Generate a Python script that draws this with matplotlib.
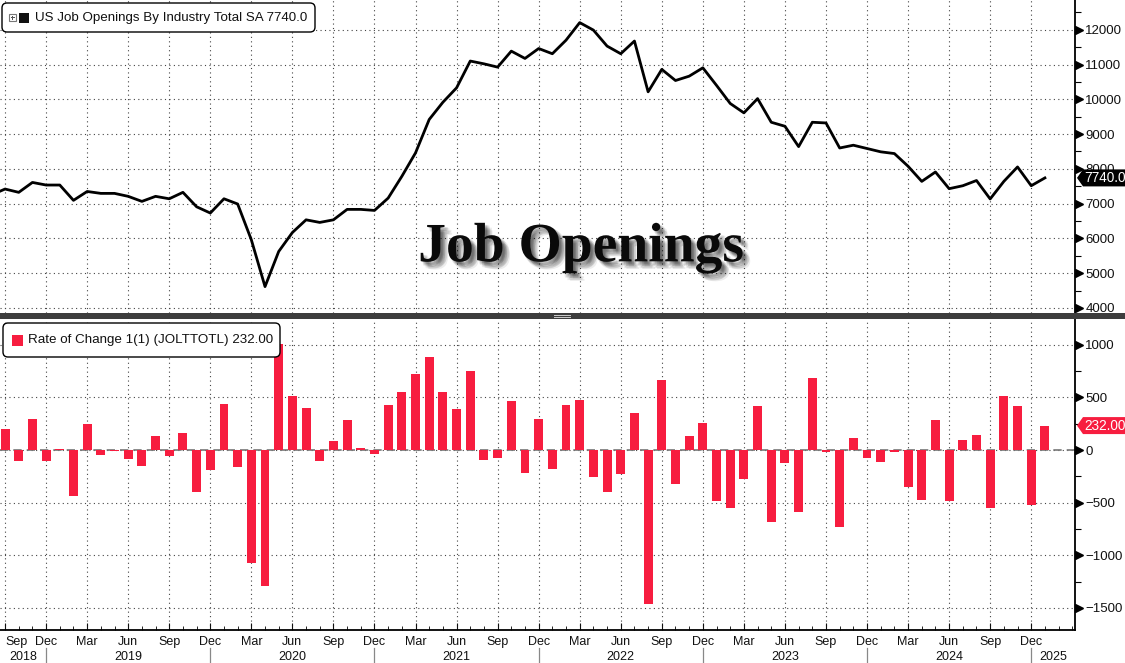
import matplotlib
matplotlib.use("Agg")
import matplotlib.pyplot as plt
import matplotlib.patheffects as pe
from matplotlib.patches import Rectangle, FancyBboxPatch, Polygon
from matplotlib.transforms import IdentityTransform, blended_transform_factory
from matplotlib.ticker import MultipleLocator, FixedLocator

plt.rcParams['font.family'] = ['Liberation Sans', 'DejaVu Sans']

# job openings, thousands, Aug 2018 .. Jan 2025
openings = [
    7250, 7420, 7325, 7610, 7535,
    7535, 7095, 7350, 7295, 7295, 7210, 7065, 7210, 7140, 7325, 6910, 6730,
    7140, 6990, 5960, 4615, 5625, 6170, 6535, 6460, 6535, 6835, 6835, 6805,
    7160, 7785, 8460, 9420, 9915, 10330, 11100, 11020, 10925, 11385, 11175, 11460,
    11310, 11700, 12205, 11990, 11530, 11310, 11675, 10215, 10860, 10540, 10665, 10905,
    10400, 9880, 9610, 10020, 9340, 9225, 8640, 9340, 9320, 8600, 8680, 8585,
    8490, 8440, 8075, 7640, 7910, 7430, 7515, 7665, 7135, 7640, 8055, 7515,
    7740,
]
# month over month change, Sep 2018 .. Jan 2025
changes = [
    196, -104, 294, -104,
    10, -434, 247, -47, -5, -85, -152, 136, -57, 165, -396, -190,
    434, -161, -1073, -1288, 1010, 513, 402, -104, 85, 285, 16, -41,
    427, 548, 718, 883, 548, 389, 750, -92, -73, 465, -215, 294,
    -177, 427, 475, -253, -396, -225, 351, -1459, 665, -320, 133, 256,
    -481, -548, -275, 418, -680, -120, -586, 684, -15, -731, 111, -73,
    -111, -16, -351, -472, 285, -481, 95, 142, -548, 513, 418, -522,
    232,
]
quarter_names = ['Sep', 'Dec', 'Mar', 'Jun']
years = ['2018', '2019', '2020', '2021', '2022', '2023', '2024', '2025']

RED = '#f71d3f'
W, H = 1125, 663

# x = months since Sep 2018
x_line = list(range(-1, len(openings) - 1))
x_bar = list(range(len(changes)))
x_lo, x_hi = -0.37, 78.2

fig = plt.figure(figsize=(W / 100, H / 100), dpi=100)


def box(x0, y0, x1, y1):
    return [x0 / W, 1 - y1 / H, (x1 - x0) / W, (y1 - y0) / H]


ax1 = fig.add_axes(box(0, 0, 1075, 313))
ax2 = fig.add_axes(box(0, 319, 1075, 630))

ax1.plot(x_line, openings, color='k', lw=2, zorder=3)
ax2.bar(x_bar, changes, width=0.65, color=RED, zorder=3)
ax2.axhline(0, color='#777777', lw=1.2, ls=(0, (5, 3)), zorder=2)

grid_kw = dict(color='#444444', lw=0.8, ls=(0, (1, 3)))
qticks = list(range(0, 76, 3))

for ax, lo, hi, step, minor in [(ax1, 3856, 12855, 1000, 500), (ax2, -1709, 1244, 500, 250)]:
    ax.set_xlim(x_lo, x_hi)
    ax.set_ylim(lo, hi)
    ax.yaxis.tick_right()
    ax.yaxis.set_major_locator(MultipleLocator(step))
    ax.yaxis.set_minor_locator(MultipleLocator(minor))
    ax.xaxis.set_major_locator(FixedLocator(qticks))
    ax.tick_params(axis='y', which='major', length=0, pad=7.5, labelsize=9.5, colors='#111111')
    ax.tick_params(axis='y', which='minor', length=4, width=0.8, direction='out')
    ax.grid(True, which='major', **grid_kw)
    for s in ['left', 'top']:
        ax.spines[s].set_visible(False)
    ax.spines['right'].set_linewidth(1.3)
    ax.set_axisbelow(True)
    tr = blended_transform_factory(ax.transAxes, ax.transData)
    majors = [v for v in range(-3000, 13001, step) if lo < v < hi]
    ax.plot([1.004] * len(majors), majors, transform=tr, marker='>', ms=6,
            color='k', ls='none', clip_on=False)
    ax.set_ylim(lo, hi)

ax1.spines['bottom'].set_visible(False)
ax1.tick_params(axis='x', which='both', length=0, labelbottom=False)

ax2.spines['bottom'].set_linewidth(1.3)
ax2.xaxis.set_minor_locator(MultipleLocator(1))
ax2.set_xticklabels([quarter_names[i % 4] for i in range(len(qticks))])
ax2.tick_params(axis='x', which='major', direction='in', length=5, pad=4, labelsize=9, colors='#111111')
ax2.tick_params(axis='x', which='minor', direction='in', length=3)
ax2.get_xticklabels()[0].set_ha('left')

# year labels under the month labels
trx = blended_transform_factory(ax2.transData, ax2.transAxes)
dec_pos = list(range(3, 76, 12))
edges = [x_lo] + dec_pos + [x_hi]
for i, yr in enumerate(years):
    ax2.text((edges[i] + edges[i + 1]) / 2, -0.086, yr, transform=trx,
             ha='center', va='center', fontsize=9, color='#111111')
for d in dec_pos:
    ax2.plot([d, d], [-0.058, -0.11], transform=trx, color='#888888', lw=0.9, clip_on=False)

# big title
shadow = [pe.SimplePatchShadow(offset=(dx, dy), shadow_rgbFace='#000000', alpha=0.07)
          for dx, dy in [(1.5, -1.5), (2.5, -2.5), (3.5, -3.5), (4.5, -4.5), (3.5, -2), (2, -3.5),
                         (5, -3.5), (3.5, -5), (2.5, -1.5), (1.5, -2.5), (5.5, -5.5)]]
ax1.text(0.5405, 0.165, 'Job Openings', transform=ax1.transAxes, ha='center', va='baseline',
         family=['Liberation Serif', 'DejaVu Serif'], weight='bold', fontsize=40, color='#0a0a0a',
         zorder=4, path_effects=shadow + [pe.Normal()])

# separator between the panels
idt = IdentityTransform()
fig.add_artist(Rectangle((0, H - 319), W, 6, transform=idt, fc='#3d3d3d', ec='none', zorder=5))
for yy in (315, 317):
    fig.add_artist(Rectangle((554, H - yy - 0.5), 17, 1, transform=idt, fc='#c8c8c8', ec='none', zorder=6))


# legends
def legend(x0, y0, x1, y1, text, fs, sq_color, sq_x, sq_size, tx):
    yc = (y0 + y1) / 2
    fig.add_artist(FancyBboxPatch((x0, H - y1), x1 - x0, y1 - y0, transform=idt,
                                  boxstyle='round,pad=0,rounding_size=5', fc='white', ec='black',
                                  lw=1, zorder=7))
    fig.add_artist(Rectangle((sq_x, H - yc - sq_size / 2), sq_size, sq_size, transform=idt,
                             fc=sq_color, ec='none', zorder=8))
    fig.text(tx / W, 1 - yc / H, text, ha='left', va='center', fontsize=fs, color='#111111', zorder=8)


legend(2, 3, 315, 32, 'US Job Openings By Industry Total SA 7740.0', 9.6, '#111111', 19, 10, 35)
# small expand icon
fig.add_artist(Rectangle((9, H - 21), 7, 7, transform=idt, fc='white', ec='#777777', lw=0.8, zorder=8))
fig.add_artist(Rectangle((10.5, H - 17.9), 4, 0.8, transform=idt, fc='#555555', ec='none', zorder=9))
fig.add_artist(Rectangle((12.1, H - 19.5), 0.8, 4, transform=idt, fc='#555555', ec='none', zorder=9))

legend(3, 323, 280, 357, 'Rate of Change 1(1) (JOLTTOTL) %.2f' % changes[-1], 9.6, RED, 12, 11, 28)


# last value tags on the right axis
def tag(ax, value, text, color):
    py = ax.transData.transform((x_lo, value))[1]
    px = ax.transAxes.transform((1.0, 0))[0]
    h = 8.5
    fig.add_artist(Polygon([(px + 2, py), (px + 8, py + h), (W, py + h), (W, py - h), (px + 8, py - h)],
                           closed=True, transform=idt, fc=color, ec='none', zorder=8))
    fig.text((px + 9) / W, py / H, text, ha='left', va='center', fontsize=9.8, color='white', zorder=9)


tag(ax1, openings[-1], '%.1f' % openings[-1], '#000000')
tag(ax2, changes[-1], '%.2f' % changes[-1], RED)

fig.savefig('out.png', dpi=100, facecolor='white')
